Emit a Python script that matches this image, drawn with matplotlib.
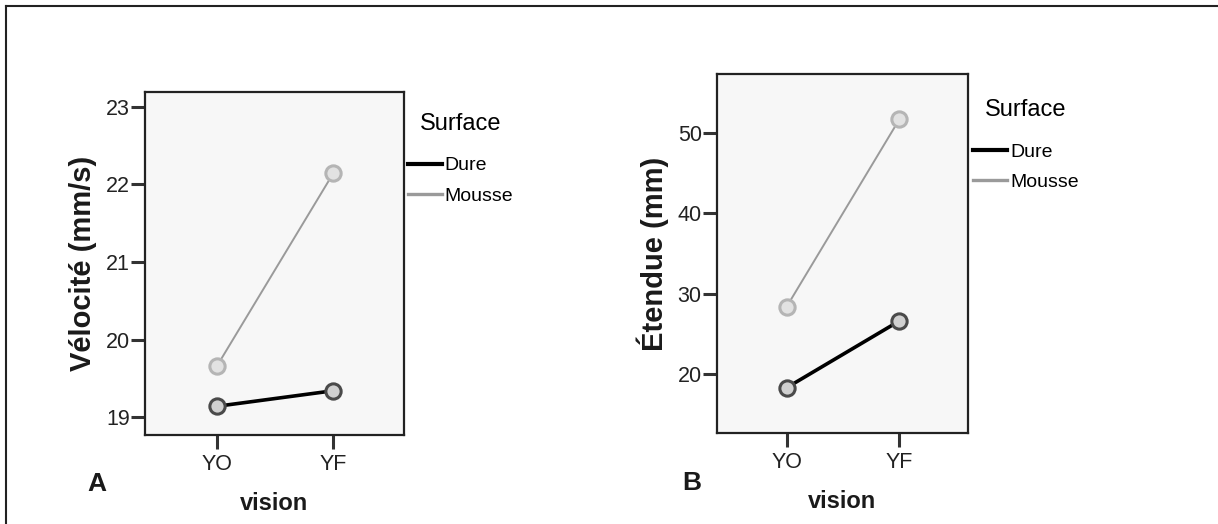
import matplotlib.pyplot as plt
from matplotlib.lines import Line2D

plt.rcParams['font.family'] = ['Liberation Sans Narrow', 'Liberation Sans', 'DejaVu Sans']

vision = ['YO', 'YF']
surfaces = ['Dure', 'Mousse']

velocite_dure = [19.14, 19.34]
velocite_mousse = [19.66, 22.14]

etendue_dure = [18.3, 26.6]
etendue_mousse = [28.4, 51.7]

line_colors = {'Dure': '#000000', 'Mousse': '#9a9a9a'}
line_widths = {'Dure': 2.6, 'Mousse': 1.4}
marker_edges = {'Dure': '#4a4a4a', 'Mousse': '#b5b5b5'}
marker_faces = {'Dure': '#d0d0d0', 'Mousse': '#e2e2e2'}

fig = plt.figure(figsize=(12.18, 5.24), dpi=100)

# outer frame (top and left only)
fig.add_artist(Line2D([6 / 1218, 1], [1 - 6 / 524] * 2, color='#222222', lw=1.5))
fig.add_artist(Line2D([6 / 1218] * 2, [0, 1 - 6 / 524], color='#222222', lw=1.5))


def panel(rect, dure, mousse, ylim, yticks, ylabel, letter, letter_xy, leg_anchor):
    ax = fig.add_axes(rect)
    ax.set_facecolor('#f7f7f7')
    x = list(range(len(vision)))
    for name, vals in zip(surfaces, [dure, mousse]):
        ax.plot(x, vals, color=line_colors[name], lw=line_widths[name],
                marker='o', ms=11, mfc=marker_faces[name], mec=marker_edges[name], mew=2.2,
                zorder=3 if name == 'Dure' else 2)
    ax.set_xlim(-0.62, 1.61)
    ax.set_ylim(*ylim)
    ax.set_xticks(x)
    ax.set_xticklabels(vision)
    ax.set_yticks(yticks)
    for s in ax.spines.values():
        s.set_linewidth(1.6)
        s.set_color('#222222')
    ax.tick_params(axis='both', labelsize=15.5, length=10, width=2.2, color='#333333',
                   labelcolor='#222222', pad=1)
    ax.tick_params(axis='x', pad=4)
    ax.set_xlabel('vision', fontsize=17, fontweight='bold', family='Liberation Sans',
                  labelpad=12, color='#1a1a1a')
    ax.set_ylabel(ylabel, fontsize=21, fontweight='bold', family='Liberation Sans',
                  labelpad=6, color='#1a1a1a')
    handles = [Line2D([], [], color=line_colors[n], lw=3 if n == 'Dure' else 2.4)
               for n in surfaces]
    leg = ax.legend(handles, surfaces, title='Surface', loc='upper left',
                    bbox_to_anchor=leg_anchor, frameon=False, fontsize=14,
                    title_fontsize=17, handlelength=1.75, handletextpad=0.15,
                    labelspacing=0.65, borderpad=0, borderaxespad=0)
    leg._legend_box.sep = 16
    fig.text(letter_xy[0], letter_xy[1], letter, fontsize=19, fontweight='bold',
             family='Liberation Sans', ha='center', va='center', color='#1a1a1a')
    return ax


panel([145 / 1218, 1 - 435 / 524, 259 / 1218, 343 / 524],
      velocite_dure, velocite_mousse, (18.77, 23.19), [19, 20, 21, 22, 23],
      'Vélocité (mm/s)', 'A', (97 / 1218, 1 - 484 / 524), (1.015, 0.94))

panel([717 / 1218, 1 - 433 / 524, 251 / 1218, 359 / 524],
      etendue_dure, etendue_mousse, (12.65, 57.35), [20, 30, 40, 50],
      'Étendue (mm)', 'B', (692 / 1218, 1 - 483 / 524), (1.02, 0.93))

fig.savefig('out.png', dpi=100, facecolor='white')
